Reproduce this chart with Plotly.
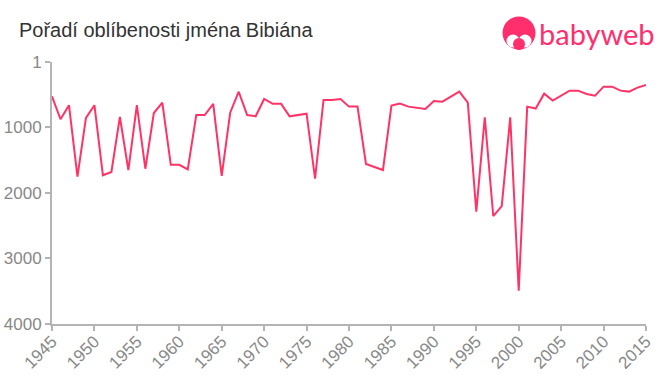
import plotly.graph_objects as go

years = list(range(1945, 2016))
ranks = [524, 875, 660, 1750, 855, 660, 1730, 1680, 840, 1650, 660, 1630, 780, 620, 1570,
         1570, 1640, 810, 810, 640, 1740, 775, 455, 810, 830, 565, 640, 640, 830, 810,
         790, 1780, 580, 580, 565, 682, 682, 1558, 1603, 1650, 667, 636, 682, 697, 718,
         595, 606, 530, 453, 621, 2285, 845, 2352, 2200, 845, 3490, 682, 712, 484, 590,
         514, 438, 438, 489, 514, 377, 377, 438, 453, 392, 351]
x_ticks = list(range(1945, 2016, 5))
y_ticks = [1, 1000, 2000, 3000, 4000]
title = "Pořadí oblíbenosti jména Bibiána"
brand = "babyweb"

W, H = 660, 375
L, R, T, B = 52, 14, 62, 51
def px(x): return (x - L) / (W - L - R)
def py(y): return 1 - (y - T) / (H - T - B)

PINK = "#ff2f6e"
GREY = "#b4b4b4"
logo = dict(xref="paper", yref="paper", line_width=0, layer="above")
def disc(cx, cy, r, color):
    return dict(type="circle", x0=px(cx - r), x1=px(cx + r), y0=py(cy + r), y1=py(cy - r),
                fillcolor=color, **logo)

fig = go.Figure(go.Scatter(x=years, y=ranks, mode="lines",
                           line=dict(color="#ff3366", width=2), hoverinfo="skip", cliponaxis=False))
fig.update_layout(
    width=W, height=H, margin=dict(l=L, r=R, t=T, b=B, pad=0),
    paper_bgcolor="white", plot_bgcolor="white", showlegend=False,
    font=dict(family="Liberation Sans", color="#888888", size=17),
    title=dict(text=title, xref="container", x=19 / W, xanchor="left",
               y=1 - 30 / H, yanchor="middle",
               pad=dict(l=0, r=0, t=0, b=0), automargin=False,
               font=dict(size=20, color="#333333")),
    xaxis=dict(range=[1945, 2015], tickvals=x_ticks, ticktext=[str(v) for v in x_ticks],
               tickangle=-45, ticks="outside", ticklen=5, tickwidth=2, tickcolor=GREY, automargin=False,
               tickfont=dict(size=17), ticklabelstandoff=-6,
               showline=True, linecolor=GREY, linewidth=2, showgrid=False, zeroline=False),
    yaxis=dict(range=[4000, 1], tickvals=y_ticks, ticktext=[str(v) for v in y_ticks],
               ticks="outside", ticklen=5, tickwidth=2, tickcolor=GREY, automargin=False,
               showline=True, linecolor=GREY, linewidth=2, showgrid=False, zeroline=False),
    shapes=[
        disc(519, 33, 16.5, PINK),
        disc(513, 41, 6.5, "white"),
        disc(525, 41, 6.5, "white"),
        disc(519, 44, 6, PINK),
    ],
    annotations=[dict(text=brand, xref="paper", yref="paper", x=px(537), y=py(33),
                      xanchor="left", yanchor="middle", showarrow=False,
                      font=dict(family="Lato", size=29, color=PINK))],
)
fig.write_html("out.html", config={"displayModeBar": False},
               post_script="document.body.style.margin='0';")
